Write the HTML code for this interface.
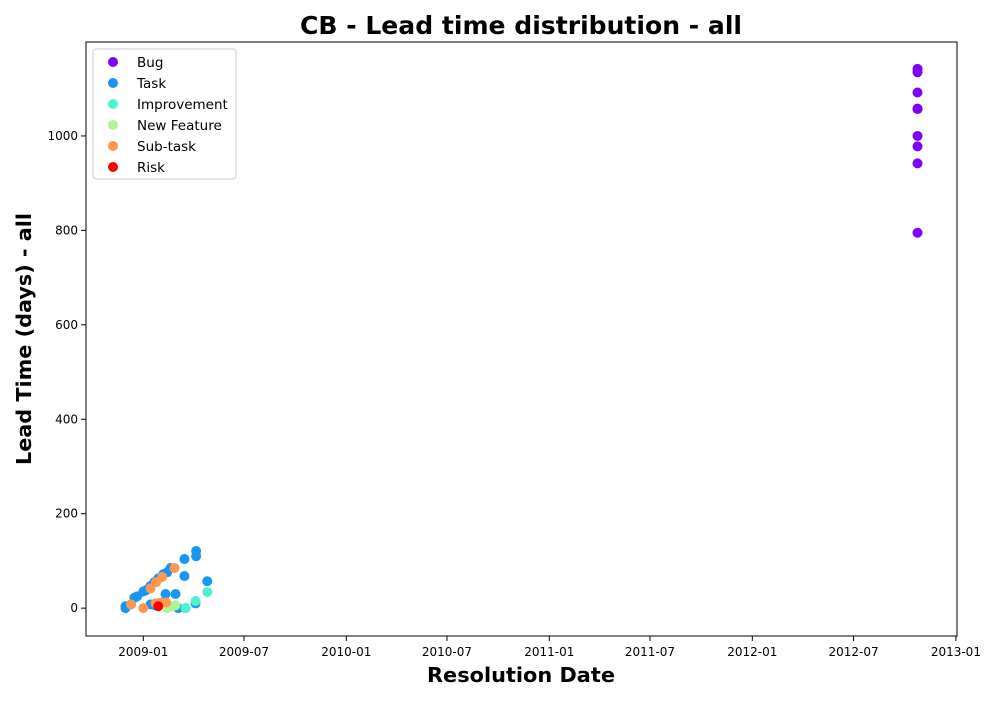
<!DOCTYPE html>
<html><head><meta charset="utf-8"><style>
body{margin:0;background:#fff;font-family:"Liberation Sans","DejaVu Sans",sans-serif}
text{font-family:"DejaVu Sans","Liberation Sans",sans-serif}
</style></head><body>
<svg id="chart" width="1000" height="700">
<text x="521" y="34" text-anchor="middle" font-size="24.5" font-weight="bold" textLength="442" lengthAdjust="spacingAndGlyphs">CB - Lead time distribution - all</text>
<text x="521" y="682" text-anchor="middle" font-size="20.5" font-weight="bold" textLength="188" lengthAdjust="spacingAndGlyphs">Resolution Date</text>
<text transform="translate(31,339) rotate(-90)" text-anchor="middle" font-size="20.5" font-weight="bold" textLength="252" lengthAdjust="spacingAndGlyphs">Lead Time (days) - all</text>
<g id="ticks"></g><g id="marks"></g>
<rect x="86" y="42" width="871" height="594" fill="none" stroke="#000" stroke-width="1"/>
<g id="legend"></g>
</svg>
<script>
const seriesNames=["Bug","Task","Improvement","New Feature","Sub-task","Risk"];
const seriesColors=["#8000ff","#1996f3","#4df3ce","#b2f396","#ff964f","#ff0000"];
const bugDates=["2012-10-24","2012-10-24","2012-10-24","2012-10-24","2012-10-24","2012-10-24","2012-10-24","2012-10-24","2012-10-24"];
const bugValues=[1142,1135,1092,1058,1057,1000,978,942,795];
const taskDates=["2008-11-30","2008-11-30","2008-12-10","2008-12-16","2008-12-21","2009-01-01","2009-01-06","2009-01-14","2009-01-21","2009-01-28","2009-02-06","2009-02-13","2009-02-19","2009-03-16","2009-03-16","2009-04-06","2009-04-06","2009-04-26","2009-02-28","2009-02-10","2009-01-14","2009-01-23","2009-04-05","2009-03-05","2009-03-18"];
const taskValues=[0,4,8,22,25,35,38,47,55,63,72,76,85,104,68,121,110,57,30,30,8,6,10,0,0];
const impDates=["2009-04-26","2009-04-05","2009-03-18","2009-02-22"];
const impValues=[34,15,0,4];
const nfDates=["2009-02-13","2009-02-22","2009-02-28"];
const nfValues=[0,4,6];
const subDates=["2008-12-10","2009-01-01","2009-01-14","2009-01-24","2009-02-04","2009-02-26","2009-01-23","2009-02-11","2009-02-01"];
const subValues=[8,0,42,55,66,85,10,12,12];
const riskDates=["2009-01-28"];
const riskValues=[4];
const xTickLabels=["2009-01","2009-07","2010-01","2010-07","2011-01","2011-07","2012-01","2012-07","2013-01"];
const yTickValues=[0,200,400,600,800,1000];

const NS="http://www.w3.org/2000/svg";
const X0=86,X1=957,Y0=636,Y1=42;
const tMin=Date.parse("2008-09-20"),tMax=Date.parse("2013-01-03");
const vMin=-59,vMax=1199;
function xs(d){return X0+(Date.parse(d)-tMin)/(tMax-tMin)*(X1-X0);}
function ys(v){return Y0-(v-vMin)/(vMax-vMin)*(Y0-Y1);}
function mk(t,a,p){const e=document.createElementNS(NS,t);for(const k in a)e.setAttribute(k,a[k]);p.appendChild(e);return e;}
const tk=document.getElementById("ticks");
xTickLabels.forEach(l=>{const x=xs(l+"-01");
 const ln=mk("line",{x1:x,x2:x,y1:636,y2:641,stroke:"#000"},tk);
 
 
 const t=mk("text",{x:x,y:656,"text-anchor":"middle","font-size":"12"},tk);t.textContent=l;
 
 });
yTickValues.forEach(v=>{const y=ys(v);
 const ln=mk("line",{x1:81,x2:86,y1:y,y2:y,stroke:"#000"},tk);
 
 
 const t=mk("text",{x:78,y:y+4,"text-anchor":"end","font-size":"12"},tk);t.textContent=v;
 
 });
const mg=document.getElementById("marks");
const allD=[bugDates,taskDates,impDates,nfDates,subDates,riskDates];
const allV=[bugValues,taskValues,impValues,nfValues,subValues,riskValues];
allD.forEach((ds,i)=>ds.forEach((d,j)=>{
 const c=mk("circle",{cx:xs(d),cy:ys(allV[i][j]),r:5,fill:seriesColors[i]},mg);
 
 }));
const lg=document.getElementById("legend");
const box=mk("rect",{x:93,y:49,width:143,height:130,rx:3,fill:"#fff",stroke:"#ccc","fill-opacity":"0.8"},lg);


seriesNames.forEach((n,i)=>{const y=62+i*21;
 const c=mk("circle",{cx:113,cy:y,r:5,fill:seriesColors[i]},lg);
 
 
 const t=mk("text",{x:137,y:y+5,"font-size":"13.5"},lg);t.textContent=n;
 
 });
</script>
</body></html>
